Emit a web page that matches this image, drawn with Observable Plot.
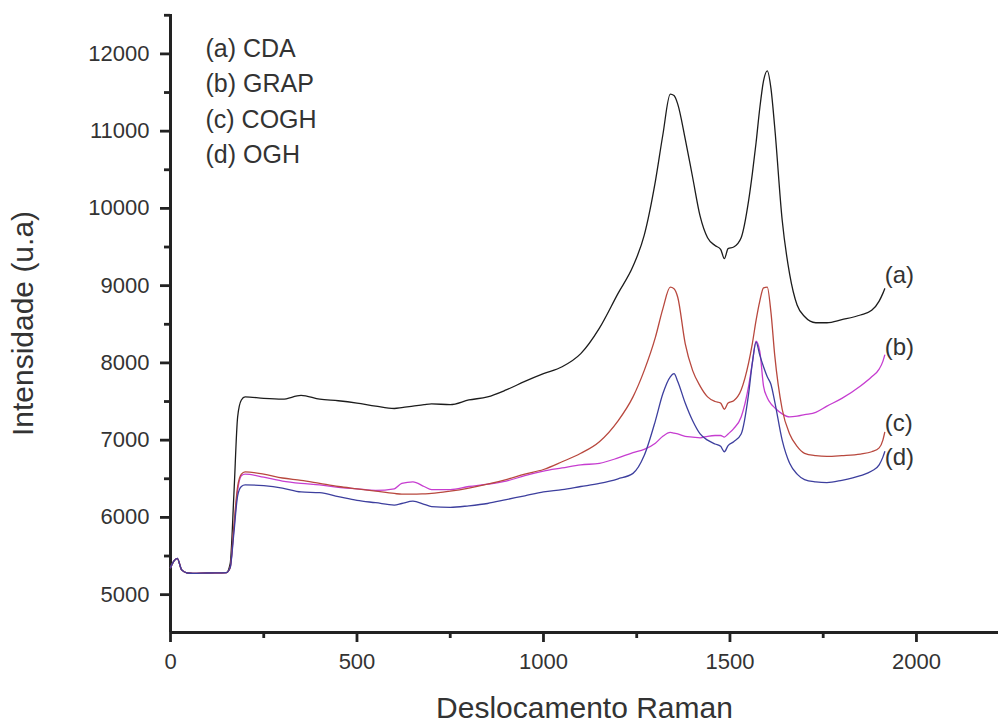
<!DOCTYPE html>
<html>
<head>
<meta charset="utf-8">
<script src="https://cdn.jsdelivr.net/npm/d3@7"></script>
<script src="https://cdn.jsdelivr.net/npm/@observablehq/plot@0.6"></script>
<style>
  html, body { margin: 0; padding: 0; background: #fff; }
  #chart { width: 998px; height: 725px; }
  svg { font-family: "Liberation Sans", Arial, sans-serif; }
</style>
</head>
<body>
<div id="chart"></div>
<script>
// Raman shift (shared x grid)
const shift = [0,10,18,30,45,60,100,150,160,170,180,190,200,250,300,350,400,450,500,550,600,620,650,680,700,750,800,850,900,950,1000,1050,1100,1150,1200,1240,1270,1300,1320,1340,1350,1360,1380,1400,1420,1440,1460,1475,1485,1495,1510,1530,1550,1560,1570,1580,1590,1600,1610,1620,1640,1660,1680,1700,1730,1760,1800,1850,1880,1900,1910,1915];

// (a) CDA - black
const cda = [5350,5440,5470,5320,5280,5275,5280,5285,5400,6300,7300,7520,7560,7540,7530,7580,7530,7510,7480,7440,7410,7420,7440,7460,7470,7460,7520,7560,7650,7760,7860,7950,8120,8450,8900,9250,9650,10350,10950,11480,11460,11350,10900,10400,9900,9620,9520,9470,9350,9480,9500,9620,10100,10450,10850,11300,11650,11780,11550,11050,9850,9150,8750,8600,8520,8520,8560,8620,8680,8800,8900,8960];

// (b) GRAP - magenta
const grap = [5350,5440,5470,5320,5280,5275,5280,5285,5350,5850,6350,6540,6560,6520,6470,6440,6420,6390,6370,6350,6370,6440,6460,6400,6360,6360,6400,6430,6470,6540,6600,6640,6680,6700,6770,6840,6880,6960,7050,7100,7090,7080,7050,7040,7030,7050,7060,7060,7040,7080,7150,7300,7700,8000,8280,8150,7700,7550,7470,7420,7340,7300,7310,7330,7360,7440,7540,7700,7820,7920,8020,8100];

// (c) COGH - red
const cogh = [5350,5440,5470,5320,5280,5275,5280,5285,5350,5900,6400,6560,6590,6560,6510,6480,6440,6400,6370,6340,6310,6300,6300,6305,6310,6340,6380,6430,6490,6560,6620,6720,6830,6980,7250,7560,7900,8330,8700,8980,8960,8850,8250,7900,7700,7560,7500,7480,7400,7480,7510,7650,8000,8250,8550,8800,8970,8980,8650,8100,7400,7080,6920,6830,6800,6790,6800,6820,6850,6900,7000,7100];

// (d) OGH - blue
const ogh = [5350,5440,5470,5320,5280,5275,5280,5285,5350,5800,6280,6400,6420,6410,6380,6330,6320,6270,6220,6190,6160,6180,6210,6170,6140,6130,6150,6180,6230,6280,6330,6360,6400,6440,6500,6570,6800,7250,7600,7820,7860,7760,7480,7250,7080,7000,6950,6920,6850,6930,6980,7080,7600,8000,8270,8100,7950,7820,7720,7500,7000,6700,6560,6490,6460,6450,6480,6540,6600,6680,6780,6850];

const seriesNames = ["CDA", "GRAP", "COGH", "OGH"];
const seriesValues = [cda, grap, cogh, ogh];
const seriesColors = ["#1c1c1c", "#c63dd0", "#b8483e", "#3d3f9e"];
const legendLabels = ["(a) CDA", "(b) GRAP", "(c) COGH", "(d) OGH"];
const curveTags = ["(a)", "(b)", "(c)", "(d)"];
const curveTagY = [9130, 8200, 7220, 6780];
const xTicks = [0, 500, 1000, 1500, 2000];
const xMinor = [250, 750, 1250, 1750];
const yTicks = [5000, 6000, 7000, 8000, 9000, 10000, 11000, 12000];
const yMinor = [5500, 6500, 7500, 8500, 9500, 10500, 11500, 12500];

const rows = [];
seriesNames.forEach((name, s) => {
  shift.forEach((x, i) => rows.push({series: name, x, y: seriesValues[s][i]}));
});

const xDomain = [0, 2220];
const yDomain = [4510, 12510];
const axisColor = "#222";
const font = "Liberation Sans, Arial, sans-serif";

const chart = Plot.plot({
  width: 998,
  height: 725,
  marginLeft: 170,
  marginRight: 0,
  marginTop: 14,
  marginBottom: 93,
  style: {fontFamily: font, background: "#fff", color: "#333"},
  x: {domain: xDomain},
  y: {domain: yDomain},
  color: {domain: seriesNames, range: seriesColors},
  marks: [
    // minor ticks
    Plot.axisX(xMinor, {tickSize: 6, tickFormat: () => "", stroke: axisColor, strokeWidth: 2.8, strokeOpacity: 1, label: null}),
    Plot.axisY(yMinor, {tickSize: 6, tickFormat: () => "", stroke: axisColor, strokeWidth: 2.8, strokeOpacity: 1, label: null}),
    // major ticks
    Plot.axisX(xTicks, {tickSize: 10, tickPadding: 11, fontSize: 22, stroke: axisColor, strokeWidth: 2.8, strokeOpacity: 1, fill: "#333", label: null, tickFormat: d => String(d)}),
    Plot.axisY(yTicks, {tickSize: 10, tickPadding: 11, fontSize: 22, stroke: axisColor, strokeWidth: 2.8, strokeOpacity: 1, fill: "#333", label: null, tickFormat: d => String(d)}),
    // axis lines
    Plot.ruleY([yDomain[0]], {stroke: axisColor, strokeWidth: 3}),
    Plot.ruleX([xDomain[0]], {stroke: axisColor, strokeWidth: 3}),
    // spectra
    Plot.line(rows, {x: "x", y: "y", z: "series", stroke: "series", strokeWidth: 1.3, curve: "monotone-x"}),
    // curve tags
    Plot.text(curveTags, {x: () => 1915, y: (d, i) => curveTagY[i], text: d => d, textAnchor: "start", fontSize: 24, fill: "#333"}),
    // legend
    Plot.text([legendLabels.join("\n")], {frameAnchor: "top-left", dx: 35, dy: 17, lineHeight: 1.42, fontSize: 25, fill: "#333", textAnchor: "start", lineAnchor: "top"}),
    // axis titles
    Plot.text(["Deslocamento Raman"], {frameAnchor: "bottom", dy: 76, fontSize: 30, fill: "#333", lineAnchor: "middle", textAnchor: "middle"}),
    Plot.text(["Intensidade (u.a)"], {frameAnchor: "left", dx: -147, rotate: -90, fontSize: 30, fill: "#333", lineAnchor: "middle", textAnchor: "middle"})
  ]
});

document.getElementById("chart").appendChild(chart);
</script>
</body>
</html>
